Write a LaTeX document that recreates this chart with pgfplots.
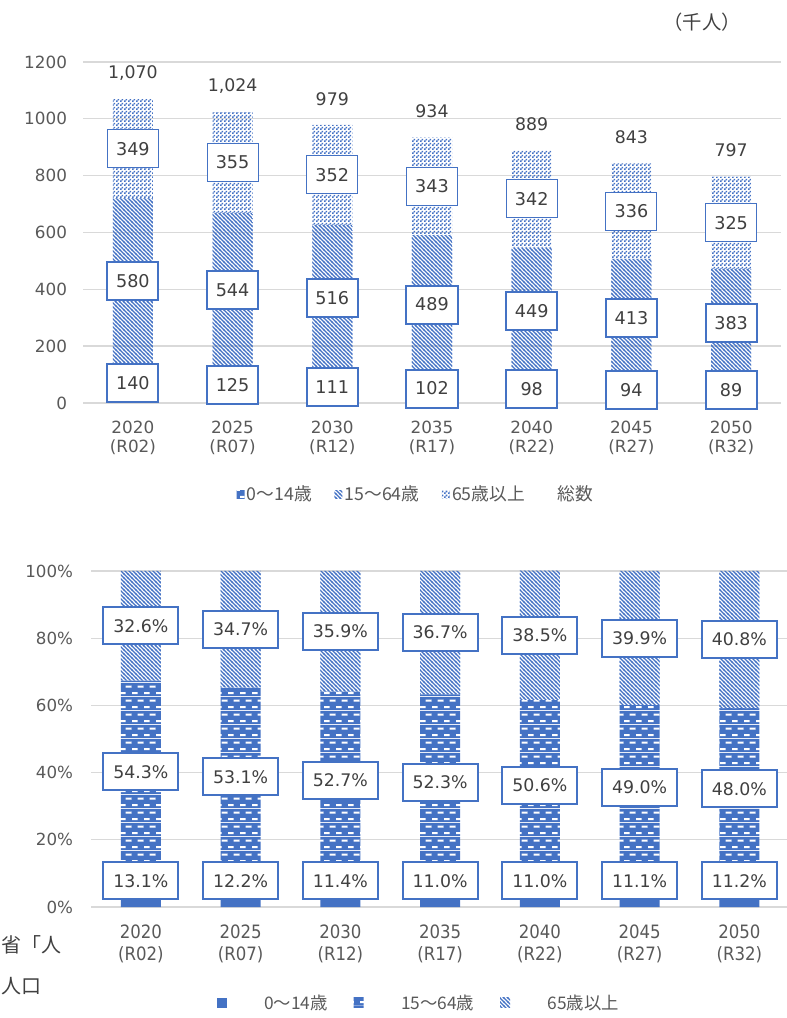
\documentclass[border=0pt]{standalone}
\usepackage{pgfplots}
\pgfplotsset{compat=1.18}
\usepackage{pgfplotstable}
\usepackage{fontspec}
\setmainfont{DejaVu Sans}
\newfontfamily\cond{DejaVu Sans Condensed}
\newfontfamily\jp{Noto Sans CJK JP}
\usetikzlibrary{patterns}
\definecolor{mblue}{HTML}{4472C4}
\definecolor{tgray}{HTML}{595959}
\definecolor{lgray}{HTML}{404040}
\definecolor{gridc}{HTML}{D9D9D9}

\pgfdeclarepatternformonly{mydiag}{\pgfqpoint{-1pt}{-1pt}}{\pgfqpoint{4pt}{4pt}}{\pgfqpoint{3pt}{3pt}}{%
  \pgfsetlinewidth{0.85pt}%
  \pgfpathmoveto{\pgfqpoint{-0.5pt}{3.5pt}}%
  \pgfpathlineto{\pgfqpoint{3.5pt}{-0.5pt}}%
  \pgfusepath{stroke}%
}
\pgfdeclarepatternformonly{mychecker}{\pgfpointorigin}{\pgfqpoint{3pt}{3pt}}{\pgfqpoint{3pt}{3pt}}{%
  \pgfpathrectangle{\pgfpointorigin}{\pgfqpoint{1.5pt}{1.5pt}}%
  \pgfpathrectangle{\pgfqpoint{1.5pt}{1.5pt}}{\pgfqpoint{1.5pt}{1.5pt}}%
  \pgfusepath{fill}%
}
\pgfdeclarepatterninherentlycolored{brick}{\pgfpointorigin}{\pgfqpoint{9pt}{10.5pt}}{\pgfqpoint{9pt}{10.5pt}}{%
  \pgfsetfillcolor{mblue}%
  \pgfpathrectangle{\pgfpointorigin}{\pgfqpoint{9pt}{10.5pt}}%
  \pgfusepath{fill}%
  \pgfsetfillcolor{white}%
  \pgfpathrectangle{\pgfqpoint{0pt}{1.5pt}}{\pgfqpoint{4.5pt}{1.5pt}}%
  \pgfpathrectangle{\pgfqpoint{4.5pt}{6.75pt}}{\pgfqpoint{4.5pt}{1.5pt}}%
  \pgfusepath{fill}%
}

\pgfplotstableread{
x a b c
0 140 580 349
1 125 544 355
2 111 516 352
3 102 489 343
4 98 449 342
5 94 413 336
6 89 383 325
}\topdata

\pgfplotstableread{
x y l
0 70 140
1 62.5 125
2 55.5 111
3 51 102
4 49 98
5 47 94
6 44.5 89
0 430 580
1 397 544
2 369 516
3 346.5 489
4 322.5 449
5 300.5 413
6 280.5 383
}\toplabthick

\pgfplotstableread{
x y l
0 894.5 349
1 846.5 355
2 803 352
3 762.5 343
4 718 342
5 675 336
6 634.5 325
}\toplabthin

\pgfplotstableread{
x y l
0 1069 1,070
1 1024 1,024
2 979 979
3 934 934
4 889 889
5 843 843
6 797 797
}\toptotals

\pgfplotstableread{
x a b c
0 13.1 54.3 32.6
1 12.2 53.1 34.7
2 11.4 52.7 35.9
3 11.0 52.3 36.7
4 11.0 50.6 38.5
5 11.1 49.0 39.9
6 11.2 48.0 40.8
}\botdata

\pgfplotstableread{
x y l
0 7.74 13.1\%
1 7.74 12.2\%
2 7.74 11.4\%
3 7.74 11.0\%
4 7.74 11.0\%
5 7.74 11.1\%
6 7.74 11.2\%
0 40.25 54.3\%
1 38.75 53.1\%
2 37.75 52.7\%
3 37.15 52.3\%
4 36.3 50.6\%
5 35.6 49.0\%
6 35.2 48.0\%
0 83.7 32.6\%
1 82.65 34.7\%
2 82.05 35.9\%
3 81.65 36.7\%
4 80.85 38.5\%
5 80.05 39.9\%
6 79.6 40.8\%
}\botlab

\pgfplotsset{
  toplegimg/.style={legend image code/.code={\path[##1,draw=none] (0pt,-3pt) rectangle (6pt,3pt);}},
  botlegimg/.style={legend image code/.code={\path[##1,draw=none] (0pt,-3.75pt) rectangle (7.5pt,3.75pt);}},
}

\begin{document}
\begin{tikzpicture}
\useasboundingbox (0,0) rectangle (590.25pt,763.5pt);

% ---------------- top chart ----------------
\begin{axis}[
  at={(62.25pt,461.25pt)}, anchor=south west,
  scale only axis, width=523.5pt, height=255.75pt,
  ybar stacked, bar width=30pt,
  xmin=-0.5, xmax=6.5, ymin=0, ymax=1200,
  xtick={0,...,6},
  xticklabels={{2020\\(R02)},{2025\\(R07)},{2030\\(R12)},{2035\\(R17)},{2040\\(R22)},{2045\\(R27)},{2050\\(R32)}},
  ytick={0,200,...,1200},
  ymajorgrids, major grid style={gridc, line width=1pt},
  axis line style={draw=none}, tick style={draw=none},
  /pgf/number format/assume math mode=true,
  /pgf/number format/1000 sep={},
  yticklabel style={font=\fontsize{12.6}{14}\selectfont, text=tgray, xshift=-8.5pt},
  xticklabel style={font=\fontsize{12.6}{14}\selectfont, text=tgray, align=center, yshift=-10pt},
  legend columns=4,
  legend cell align=left,
  legend style={at={(0.476,-0.267)}, anchor=center, draw=none, fill=none,
    font=\jp\fontsize{13.3}{15}\selectfont, text=tgray,
    nodes={inner sep=0.5pt},
    /tikz/every odd column/.append style={column sep=1.25pt},
    /tikz/every even column/.append style={column sep=16.25pt}},
]
\addplot[draw=none, pattern=brick, toplegimg] table[x=x,y=a] {\topdata};
\addlegendentry{0～14歳}
\addplot[draw=none, pattern=mydiag, pattern color=mblue, toplegimg] table[x=x,y=b] {\topdata};
\addlegendentry{15～64歳}
\addplot[draw=none, pattern=mychecker, pattern color=mblue, toplegimg] table[x=x,y=c] {\topdata};
\addlegendentry{65歳以上}
\addlegendimage{toplegimg, draw=none, fill=none}
\addlegendentry{総数}
\end{axis}

\begin{axis}[
  at={(62.25pt,461.25pt)}, anchor=south west,
  scale only axis, width=523.5pt, height=255.75pt,
  xmin=-0.5, xmax=6.5, ymin=0, ymax=1200,
  hide axis, clip=false,
]
\addplot[draw=none, mark=none, nodes near coords, point meta=explicit symbolic,
  nodes near coords align=center,
  every node near coord/.append style={draw=mblue, line width=1.5pt, fill=white,
    minimum width=38.25pt, minimum height=28.5pt, inner sep=0pt, text=lgray,
    font=\fontsize{13.2}{15}\selectfont}]
  table[x=x,y=y,meta=l] {\toplabthick};
\addplot[draw=none, mark=none, nodes near coords, point meta=explicit symbolic,
  nodes near coords align=center,
  every node near coord/.append style={draw=mblue, line width=0.75pt, fill=white,
    minimum width=38.25pt, minimum height=28.5pt, inner sep=0pt, text=lgray,
    font=\fontsize{13.2}{15}\selectfont}]
  table[x=x,y=y,meta=l] {\toplabthin};
\addplot[draw=none, mark=none, nodes near coords, point meta=explicit symbolic,
  nodes near coords align=center,
  every node near coord/.append style={yshift=19.5pt, inner sep=0pt, text=lgray,
    font=\fontsize{13}{15}\selectfont}]
  table[x=x,y=y,meta=l] {\toptotals};
\end{axis}

% ---------------- bottom chart ----------------
\begin{axis}[
  at={(68.25pt,83.25pt)}, anchor=south west,
  scale only axis, width=522pt, height=252pt,
  ybar stacked, bar width=30pt,
  xmin=-0.5, xmax=6.477, ymin=0, ymax=100,
  xtick={0,...,6},
  xticklabels={{2020\\(R02)},{2025\\(R07)},{2030\\(R12)},{2035\\(R17)},{2040\\(R22)},{2045\\(R27)},{2050\\(R32)}},
  ytick={0,20,...,100},
  yticklabel={\pgfmathprintnumber{\tick}\%},
  ymajorgrids, major grid style={gridc, line width=1pt},
  axis line style={draw=none}, tick style={draw=none},
  /pgf/number format/assume math mode=true,
  yticklabel style={font=\fontsize{12.5}{14}\selectfont, text=tgray, xshift=-10pt},
  xticklabel style={font=\cond\fontsize{13.8}{16.5}\selectfont, text=tgray, align=center, yshift=-10pt},
  legend columns=3,
  legend cell align=left,
  legend style={at={(0.47,-0.2857)}, anchor=center, draw=none, fill=none,
    font=\jp\fontsize{13}{15}\selectfont, text=tgray,
    nodes={inner sep=0.5pt},
    /tikz/every odd column/.append style={column sep=27.5pt},
    /tikz/every even column/.append style={column sep=19pt}},
]
\addplot[draw=none, fill=mblue, botlegimg] table[x=x,y=a] {\botdata};
\addlegendentry{0～14歳}
\addplot[draw=none, pattern=brick, botlegimg] table[x=x,y=b] {\botdata};
\addlegendentry{15～64歳}
\addplot[draw=none, pattern=mydiag, pattern color=mblue, botlegimg] table[x=x,y=c] {\botdata};
\addlegendentry{65歳以上}
\end{axis}

\begin{axis}[
  at={(68.25pt,83.25pt)}, anchor=south west,
  scale only axis, width=522pt, height=252pt,
  xmin=-0.5, xmax=6.477, ymin=0, ymax=100,
  hide axis, clip=false,
]
\addplot[draw=none, mark=none, nodes near coords, point meta=explicit symbolic,
  nodes near coords align=center,
  every node near coord/.append style={draw=mblue, line width=1.5pt, fill=white,
    minimum width=56.25pt, minimum height=27.75pt, inner sep=0pt, text=lgray,
    font=\fontsize{13}{15}\selectfont}]
  table[x=x,y=y,meta=l] {\botlab};
\end{axis}

% unit note and side text
\node[font=\jp\fontsize{14.5}{17}\selectfont, text=lgray, inner sep=0pt] at (526.5pt,747pt) {（千人）};
\node[anchor=base west, font=\jp\fontsize{15}{18}\selectfont, text=lgray, inner sep=0pt] at (0.75pt,48.75pt) {省「人};
\node[anchor=base west, font=\jp\fontsize{15}{18}\selectfont, text=lgray, inner sep=0pt] at (0.75pt,18.75pt) {人口};
\end{tikzpicture}
\end{document}
